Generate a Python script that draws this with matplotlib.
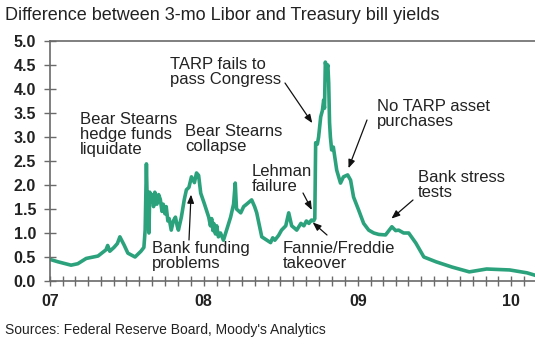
import matplotlib
matplotlib.use("Agg")
import matplotlib.pyplot as plt
import matplotlib.dates as mdates
import pandas as pd

# ---- data ----
dates = [
    "2007-01-01", "2007-01-20", "2007-02-20", "2007-03-08", "2007-03-28", "2007-04-25",
    "2007-05-14", "2007-05-18", "2007-05-23", "2007-06-02", "2007-06-10", "2007-06-16",
    "2007-06-26", "2007-07-05", "2007-07-22", "2007-08-05", "2007-08-12", "2007-08-15",
    "2007-08-18", "2007-08-20", "2007-08-22", "2007-08-24", "2007-08-26", "2007-08-28",
    "2007-09-01", "2007-09-04", "2007-09-07", "2007-09-12", "2007-09-16", "2007-09-20",
    "2007-09-24", "2007-09-27", "2007-10-01", "2007-10-04", "2007-10-08", "2007-10-11",
    "2007-10-16", "2007-10-21", "2007-10-26", "2007-10-30", "2007-11-02", "2007-11-09",
    "2007-11-16", "2007-11-21", "2007-11-27", "2007-12-03", "2007-12-10", "2007-12-15",
    "2007-12-20", "2007-12-25", "2008-01-03", "2008-01-13", "2008-01-17", "2008-01-20",
    "2008-01-23", "2008-01-25", "2008-01-29", "2008-02-01", "2008-02-05", "2008-02-10",
    "2008-02-17", "2008-02-24", "2008-03-05", "2008-03-12", "2008-03-16", "2008-03-19",
    "2008-03-29", "2008-04-05", "2008-04-12", "2008-04-24", "2008-05-01", "2008-05-06",
    "2008-05-18", "2008-05-30", "2008-06-08", "2008-06-13", "2008-06-18", "2008-06-27",
    "2008-07-04", "2008-07-14", "2008-07-21", "2008-07-28", "2008-08-04", "2008-08-09",
    "2008-08-19", "2008-08-26", "2008-09-01", "2008-09-07", "2008-09-13", "2008-09-18",
    "2008-09-21", "2008-09-23", "2008-09-27", "2008-09-30", "2008-10-05", "2008-10-09",
    "2008-10-12", "2008-10-14", "2008-10-16", "2008-10-19", "2008-10-22", "2008-10-24",
    "2008-10-26", "2008-10-28", "2008-10-31", "2008-11-04", "2008-11-08", "2008-11-12",
    "2008-11-21", "2008-11-28", "2008-12-08", "2008-12-15", "2008-12-22", "2009-01-03",
    "2009-01-15", "2009-01-27", "2009-02-08", "2009-02-20", "2009-03-08", "2009-03-23",
    "2009-04-01", "2009-04-08", "2009-04-20", "2009-05-02", "2009-05-19", "2009-06-07",
    "2009-07-06", "2009-08-13", "2009-09-23", "2009-11-03", "2009-12-28", "2010-02-07",
    "2010-02-26",
]
spread = [
    0.45, 0.40, 0.33, 0.36, 0.47, 0.52,
    0.65, 0.74, 0.62, 0.70, 0.78, 0.92,
    0.75, 0.58, 0.50, 0.62, 0.70, 1.06,
    2.44, 1.60, 1.85, 1.00, 1.85, 1.65,
    1.80, 1.55, 1.85, 1.60, 1.80, 1.70,
    1.45, 1.60, 1.40, 1.55, 1.25, 1.30,
    1.06, 1.25, 1.33, 1.15, 1.06, 1.33,
    1.70, 1.90, 1.95, 2.17, 2.05, 2.25,
    2.20, 1.83, 1.60, 1.33, 1.15, 1.30,
    1.05, 1.20, 0.98, 1.15, 0.92, 1.00,
    0.85, 1.05, 1.33, 1.60, 2.04, 1.50,
    1.42, 1.55, 1.60, 1.69, 1.55, 1.42,
    0.92, 0.85, 0.80, 0.90, 0.85, 0.95,
    1.06, 1.15, 1.42, 1.15, 1.10, 1.06,
    1.20, 1.15, 1.25, 1.20, 1.27, 1.25,
    1.30, 2.88, 2.85, 3.00, 3.42, 3.55,
    3.77, 3.60, 4.56, 4.40, 4.50, 4.12,
    3.30, 3.00, 2.73, 2.79, 2.55, 2.31,
    2.04, 2.17, 2.21, 2.10, 1.75, 1.48,
    1.20, 1.06, 1.00, 0.97, 0.96, 1.13,
    1.05, 1.06, 1.00, 1.00, 0.79, 0.50,
    0.40, 0.29, 0.19, 0.25, 0.23, 0.17,
    0.12,
]
year_ticks = ["2007-01-01", "2008-01-01", "2009-01-01", "2010-01-01"]
year_labels = ["07", "08", "09", "10"]
y_ticks = [0.0, 0.5, 1.0, 1.5, 2.0, 2.5, 3.0, 3.5, 4.0, 4.5, 5.0]

title = "Difference between 3-mo Libor and Treasury bill yields"
source = "Sources: Federal Reserve Board, Moody's Analytics"

# annotations: text, text position (figure px from top-left), arrow head (date, value) or None, arrow tail px
notes = [
    ("Bear Stearns\nhedge funds\nliquidate", (80, 112), None, None),
    ("Bear Stearns\ncollapse", (185, 124), None, None),
    ("TARP fails to\npass Congress", (170, 57), ("2008-09-15", 3.29), (285, 83)),
    ("Lehman\nfailure", (252, 164), ("2008-09-14", 1.48), (303, 193)),
    ("Fannie/Freddie\ntakeover", (283, 241), ("2008-09-16", 1.22), (327, 235)),
    ("Bank funding\nproblems", (152, 241), ("2007-12-02", 1.80), (189, 240)),
    ("No TARP asset\npurchases", (377, 99), ("2008-12-10", 2.35), (367, 120)),
    ("Bank stress\ntests", (418, 170), ("2009-03-22", 1.30), (413, 200)),
]

W, H = 535, 345
line_color = "#2ba27c"
text_color = "#222222"
spine_color = "#6a6a6a"

plt.rcParams["font.family"] = ["Liberation Sans", "DejaVu Sans"]

fig = plt.figure(figsize=(W / 100, H / 100), dpi=100)
ax = fig.add_axes([50 / W, 1 - 281 / H, 1 - 50 / W, (281 - 41) / H])

x = pd.to_datetime(dates)
ax.plot(x, spread, color=line_color, lw=2.6, solid_joinstyle="round")

ax.set_xlim(pd.Timestamp("2007-01-01"), pd.Timestamp("2010-02-26"))
ax.set_ylim(0, 5)

ax.set_yticks(y_ticks)
ax.set_yticklabels([f"{v:.1f}" for v in y_ticks], fontsize=11.5, fontweight="bold", color=text_color)
ax.set_xticks(pd.to_datetime(year_ticks))
ax.set_xticklabels(year_labels, fontsize=11.5, fontweight="bold", color=text_color)
ax.xaxis.set_minor_locator(mdates.MonthLocator())
ax.tick_params(axis="x", which="both", direction="inout", length=7, width=1, color=spine_color, pad=6)
ax.tick_params(axis="y", which="both", direction="inout", length=8, width=1, color=spine_color, pad=6)

for s in ["left", "bottom", "top"]:
    ax.spines[s].set_color(spine_color)
    ax.spines[s].set_linewidth(1.2)
ax.spines["right"].set_visible(False)

fig.text(5 / W, 1 - 15 / H, title, fontsize=13, color=text_color, ha="left", va="center")
fig.text(5 / W, 1 - 330 / H, source, fontsize=10, color=text_color, ha="left", va="center")

for txt, (tx, ty), head, tail in notes:
    fig.text(tx / W, 1 - ty / H, txt, fontsize=12, color=text_color, ha="left", va="top",
             linespacing=1.0)
    if head is not None:
        ax.annotate("", xy=(pd.Timestamp(head[0]), head[1]), xycoords="data",
                    xytext=(tail[0], H - tail[1]), textcoords="figure pixels",
                    arrowprops=dict(arrowstyle="-|>,head_length=0.5,head_width=0.2",
                                    color="#111111", lw=0.9, shrinkA=0, shrinkB=0))

fig.savefig("out.png", dpi=100)
